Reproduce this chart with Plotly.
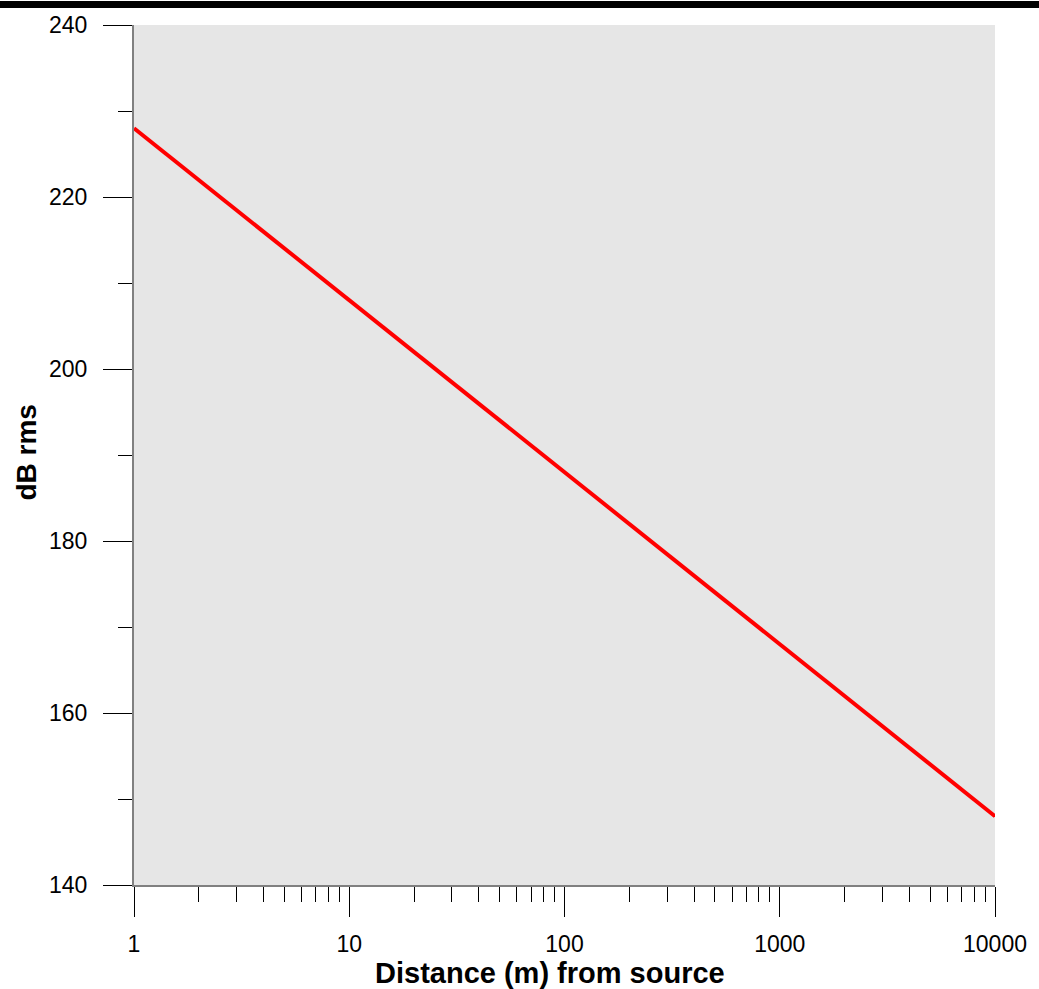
import plotly.graph_objects as go

distance_m = [1, 10, 100, 1000, 10000]
level_db = [228, 208, 188, 168, 148]
x_tick_vals = [1, 10, 100, 1000, 10000]
x_tick_text = ["1", "10", "100", "1000", "10000"]
y_tick_vals = [140, 160, 180, 200, 220, 240]

fig = go.Figure()
fig.add_trace(go.Scatter(x=distance_m, y=level_db, mode="lines",
                         line=dict(color="#ff0000", width=4), showlegend=False))

font = dict(family="Arial, Liberation Sans, sans-serif", size=23, color="black")
fig.update_layout(
    width=1039, height=989,
    margin=dict(l=134, r=43, t=23, b=104),
    paper_bgcolor="white", plot_bgcolor="#e6e6e6",
    font=font,
    xaxis=dict(type="log", range=[0, 4], tickvals=x_tick_vals, ticktext=x_tick_text,
               ticks="outside", ticklen=30, tickwidth=1, tickcolor="black",
               showline=True, linecolor="#808080", linewidth=2,
               showgrid=False, zeroline=False,
               minor=dict(ticks="outside", ticklen=15, tickwidth=1, tickcolor="black",
                          dtick="D1", showgrid=False),
               ticklabelstandoff=7),
    yaxis=dict(range=[140, 240], tickvals=y_tick_vals,
               ticks="outside", ticklen=29, tickwidth=1, tickcolor="black",
               showline=True, linecolor="#808080", linewidth=2,
               showgrid=False, zeroline=False,
               minor=dict(ticks="outside", ticklen=14, tickwidth=1, tickcolor="black",
                          dtick=10, showgrid=False),
               ticklabelstandoff=11),
)
fig.add_annotation(text="<b>Distance (m) from source</b>", xref="paper", yref="paper",
                   x=0.4832, y=-0.1025, xanchor="center", yanchor="middle",
                   showarrow=False, font=dict(size=29))
fig.add_annotation(text="<b>dB rms</b>", xref="paper", yref="paper",
                   x=-0.1253, y=0.503, xanchor="center", yanchor="middle",
                   textangle=-90, showarrow=False, font=dict(size=28))
fig.add_shape(type="rect", xref="paper", yref="paper", x0=-0.3, x1=1.2,
              ysizemode="pixel", yanchor=1, y0=17, y1=24,
              fillcolor="black", line=dict(width=0), layer="above")
fig.write_html("out.html", config={"displayModeBar": False},
               post_script="document.body.style.margin='0';")
